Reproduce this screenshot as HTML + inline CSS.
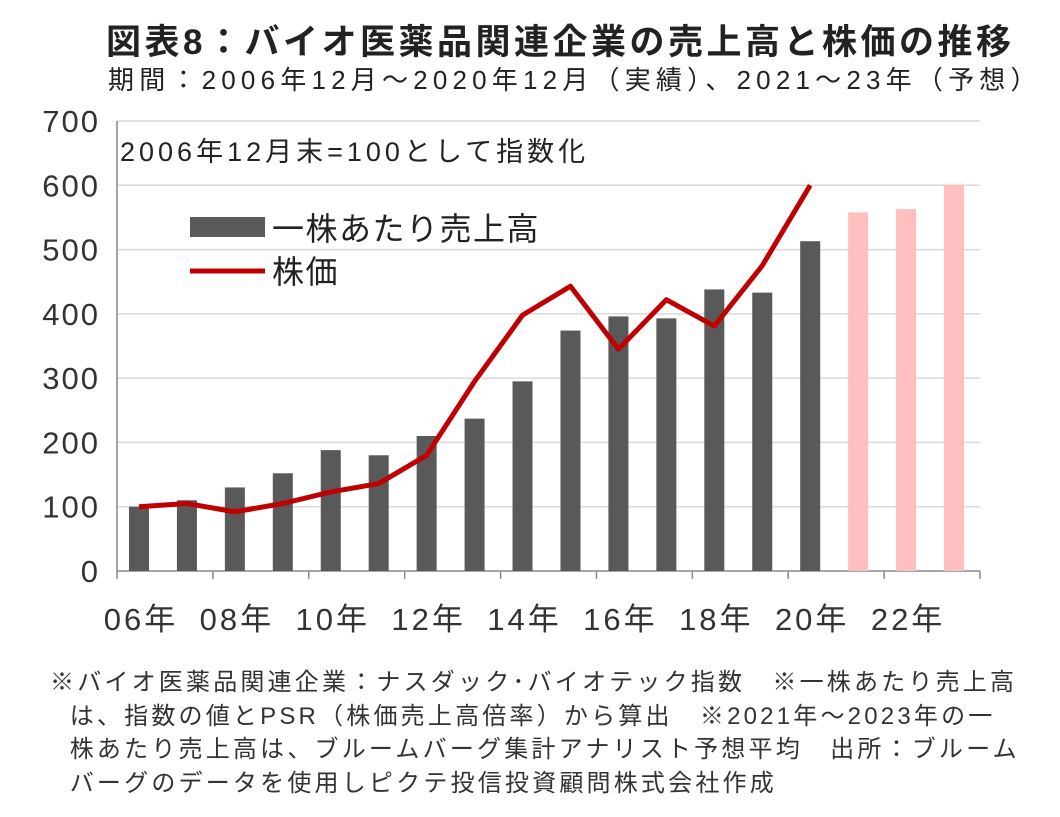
<!DOCTYPE html>
<html><head><meta charset="utf-8"><style>
body{margin:0;background:#fff;width:1060px;height:817px;overflow:hidden;font-family:"Liberation Sans","Noto Sans CJK JP",sans-serif;}
.t{position:absolute;white-space:nowrap;color:#222;}
</style></head><body>
<div class="t" style="left:106px;top:14px;font-size:35px;font-weight:bold;letter-spacing:3.5px;">図表8：バイオ医薬品関連企業の売上高と株価の推移</div>
<div class="t" style="left:108px;top:60px;font-size:26px;letter-spacing:5.2px;">期間：2006年12月～2020年12月（実績）、2021～23年（予想）</div>
<svg id="c" width="1060" height="817" style="position:absolute;left:0;top:0"></svg>
<div class="t" style="left:50px;top:666px;font-size:24px;line-height:33.5px;color:#333;letter-spacing:3.2px;">※バイオ医薬品関連企業：ナスダック･バイオテック指数　※一株あたり売上高<br>&nbsp;&nbsp;は、指数の値とPSR（株価売上高倍率）から算出　※2021年～2023年の一<br>&nbsp;&nbsp;株あたり売上高は、ブルームバーグ集計アナリスト予想平均　出所：ブルーム<br>&nbsp;&nbsp;バーグのデータを使用しピクテ投信投資顧問株式会社作成</div>
<script>
const years=[2006,2007,2008,2009,2010,2011,2012,2013,2014,2015,2016,2017,2018,2019,2020,2021,2022,2023];
const sales=[100,110,130,152,188,180,210,237,295,374,396,393,438,433,513,558,563,601];
const forecast=[false,false,false,false,false,false,false,false,false,false,false,false,false,false,false,true,true,true];
const price=[100,105,92,105,123,136,180,295,398,443,345,422,381,475,600];
const yTicks=[0,100,200,300,400,500,600,700];
const xLabels=["06年","08年","10年","12年","14年","16年","18年","20年","22年"];
const NS="http://www.w3.org/2000/svg";
const svg=document.getElementById('c');
const X0=117,X1=980,Y0=571,Y1=121;
const step=(X1-X0)/years.length;
const xc=i=>X0+step*(i+0.5)-2;
const y=v=>Y0-(v/700)*(Y0-Y1);
function mk(t,a){const e=document.createElementNS(NS,t);for(const k in a)e.setAttribute(k,a[k]);svg.appendChild(e);return e;}
yTicks.forEach(v=>{
 if(v>0){const g=mk('line',{x1:X0,x2:X1,y1:y(v),y2:y(v),stroke:'#d9d9d9','stroke-width':1.5});
 
 }
 const t=mk('text',{x:100,y:y(v)+11,'text-anchor':'end','font-size':31,'letter-spacing':2,fill:'#333','font-family':'Liberation Sans, sans-serif'});
 t.textContent=v;
 
 
});
const ax=mk('line',{x1:X0,x2:X0,y1:Y1,y2:Y0,stroke:'#888','stroke-width':1.5});


const xa=mk('line',{x1:X0,x2:X1,y1:Y0,y2:Y0,stroke:'#888','stroke-width':1.5});


for(let i=0;i<=years.length;i+=2){const tk=mk('line',{x1:X0+step*i,x2:X0+step*i,y1:Y0,y2:Y0+8,stroke:'#888','stroke-width':1.5});

}
years.forEach((yr,i)=>{
 const r=mk('rect',{x:xc(i)-10,y:y(sales[i]),width:20,height:Y0-y(sales[i]),fill:forecast[i]?'#ffbfbf':'#595959'});
 
 
});
xLabels.forEach((l,k)=>{
 const t=mk('text',{x:xc(2*k)+2,y:630,'text-anchor':'middle','font-size':31,'letter-spacing':3,fill:'#333','font-family':'Liberation Sans, Noto Sans CJK JP, sans-serif'});
 t.textContent=l;
 
 
});
const pl=mk('polyline',{points:price.map((v,i)=>xc(i)+','+y(v)).join(' '),fill:'none',stroke:'#c00000','stroke-width':5,'stroke-linejoin':'round'});


const an=mk('text',{x:120,y:161,'font-size':27,'letter-spacing':4,fill:'#222','font-family':'Liberation Sans, Noto Sans CJK JP, sans-serif'});
an.textContent='2006年12月末=100として指数化';


const l1=mk('rect',{x:190,y:217,width:75,height:20,fill:'#595959'});


const lt1=mk('text',{x:272,y:240,'font-size':32,'letter-spacing':1.5,fill:'#222','font-family':'Liberation Sans, Noto Sans CJK JP, sans-serif'});
lt1.textContent='一株あたり売上高';


const l2=mk('line',{x1:190,x2:265,y1:271,y2:271,stroke:'#c00000','stroke-width':5});


const lt2=mk('text',{x:272,y:283,'font-size':32,'letter-spacing':1.5,fill:'#222','font-family':'Liberation Sans, Noto Sans CJK JP, sans-serif'});
lt2.textContent='株価';


</script>
</body></html>
